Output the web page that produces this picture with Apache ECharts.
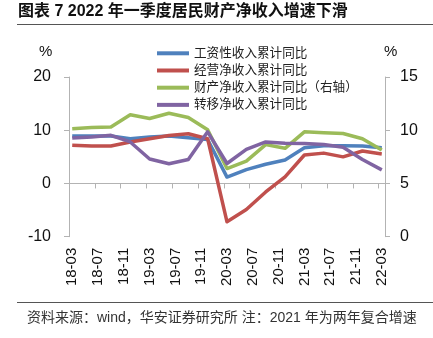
<!DOCTYPE html>
<html>
<head>
<meta charset="utf-8">
<script src="https://cdn.jsdelivr.net/npm/echarts@6/dist/echarts.min.js"></script>
<style>
  html, body { margin: 0; padding: 0; background: #fff; }
  #chart { width: 433px; height: 338px; }
</style>
</head>
<body>
<div id="chart"></div>
<script>
// Quarterly observations (cumulative y/y growth, %)
const quarters = ['18-03','18-06','18-09','18-12','19-03','19-06','19-09','19-12',
                  '20-03','20-06','20-09','20-12','21-03','21-06','21-09','21-12','22-03'];
const wageIncome     = [8.9, 8.9, 8.9, 8.4, 8.75, 8.9, 8.6, 8.25, 1.2, 2.6, 3.6, 4.4, 6.7, 7.1, 7.1, 7.05, 6.7];
const businessIncome = [7.2, 7.05, 7.05, 7.8, 8.4, 9.0, 9.35, 8.4, -7.2, -4.9, -1.6, 1.25, 5.35, 5.7, 5.0, 6.1, 5.55];
const propertyIncome = [10.15, 10.25, 10.3, 11.45, 11.1, 11.6, 11.2, 10.05, 6.4, 7.1, 8.65, 8.3, 9.85, 9.77, 9.69, 9.2, 8.15];
const transferIncome = [8.55, 8.75, 9.05, 7.8, 4.6, 3.7, 4.5, 9.7, 3.75, 6.4, 7.8, 7.55, 7.5, 7.3, 6.8, 4.5, 2.55];

const seriesNames = ['工资性收入累计同比', '经营净收入累计同比', '财产净收入累计同比（右轴）', '转移净收入累计同比'];
const seriesColors = ['#4F81BD', '#C0504D', '#9BBB59', '#8064A2'];

// Monthly date axis from 18-03 to 22-03, labelled every four months
const months = [];
for (let y = 18; y <= 22; y++) {
  for (let m = 1; m <= 12; m++) {
    if ((y === 18 && m < 3) || (y === 22 && m > 3)) continue;
    months.push(y + '-' + String(m).padStart(2, '0'));
  }
}

const leftTicks = { min: -10, max: 20, interval: 10 };
const rightTicks = { min: 0, max: 15, interval: 5 };

const axisGray = '#b3b3b3';
const latin = '"Liberation Sans", Arial, "Noto Sans CJK SC", sans-serif';
const cjk = '"Liberation Sans", "Noto Sans CJK SC", sans-serif';

function pairs(values) {
  return quarters.map((q, i) => [q, values[i]]);
}

const allValues = [wageIncome, businessIncome, propertyIncome, transferIncome];

const chart = echarts.init(document.getElementById('chart'), null, { renderer: 'canvas' });
chart.setOption({
  animation: false,
  backgroundColor: '#fff',
  grid: { left: 69, right: 48, top: 77, bottom: 101.3 },
  legend: {
    orient: 'vertical',
    left: 152, top: 42,
    itemWidth: 32, itemHeight: 4, itemGap: 4.6,
    icon: 'rect',
    textStyle: { fontFamily: cjk, fontSize: 12.6, color: '#222' },
    data: seriesNames
  },
  xAxis: [{
    type: 'category',
    data: months,
    position: 'bottom',
    boundaryGap: true,
    axisLine: { onZero: true, lineStyle: { color: axisGray, width: 1 } },
    axisTick: { show: true, interval: 3, length: 5, lineStyle: { color: axisGray } },
    axisLabel: { show: false },
    splitLine: { show: false }
  }, {
    type: 'category',
    data: months,
    position: 'bottom',
    boundaryGap: true,
    axisLine: { show: false, onZero: false },
    axisTick: { show: false },
    axisLabel: {
      interval: 3, rotate: 90, margin: 11,
      fontFamily: latin, fontSize: 15, color: '#111'
    },
    splitLine: { show: false }
  }],
  yAxis: [{
    type: 'value',
    min: leftTicks.min, max: leftTicks.max, interval: leftTicks.interval,
    axisLine: { show: true, lineStyle: { color: axisGray } },
    axisTick: { show: true, length: 5, lineStyle: { color: axisGray } },
    axisLabel: { margin: 18, fontFamily: latin, fontSize: 16, color: '#111' },
    splitLine: { show: false }
  }, {
    type: 'value',
    min: rightTicks.min, max: rightTicks.max, interval: rightTicks.interval,
    position: 'right',
    axisLine: { show: true, lineStyle: { color: axisGray } },
    axisTick: { show: true, length: 5, lineStyle: { color: axisGray } },
    axisLabel: { margin: 15, fontFamily: latin, fontSize: 16, color: '#111' },
    splitLine: { show: false }
  }],
  series: allValues.map((vals, i) => ({
    name: seriesNames[i],
    type: 'line',
    xAxisIndex: 0,
    yAxisIndex: i === 2 ? 1 : 0,
    data: pairs(vals),
    showSymbol: false,
    symbol: 'none',
    color: seriesColors[i],
    lineStyle: { width: 3.5, color: seriesColors[i], join: 'round' },
    z: 2 + i
  })),
  graphic: [
    { type: 'text', left: 18, top: 4,
      style: { text: '图表 7 2022 年一季度居民财产净收入增速下滑', font: 'bold 16px ' + cjk, fill: '#111' } },
    { type: 'line', shape: { x1: 17, y1: 24.5, x2: 433, y2: 24.5 },
      style: { stroke: '#555', lineWidth: 1.2 } },
    { type: 'text', left: 39, top: 44,
      style: { text: '%', font: '15px ' + latin, fill: '#111' } },
    { type: 'text', left: 384, top: 44,
      style: { text: '%', font: '15px ' + latin, fill: '#111' } },
    { type: 'line', shape: { x1: 17, y1: 302.5, x2: 433, y2: 302.5 },
      style: { stroke: '#555', lineWidth: 1.2 } },
    { type: 'text', left: 27, top: 311,
      style: { text: '资料来源：wind，华安证券研究所 注：2021 年为两年复合增速', font: '14px ' + cjk, fill: '#333' } }
  ]
});
</script>
</body>
</html>
